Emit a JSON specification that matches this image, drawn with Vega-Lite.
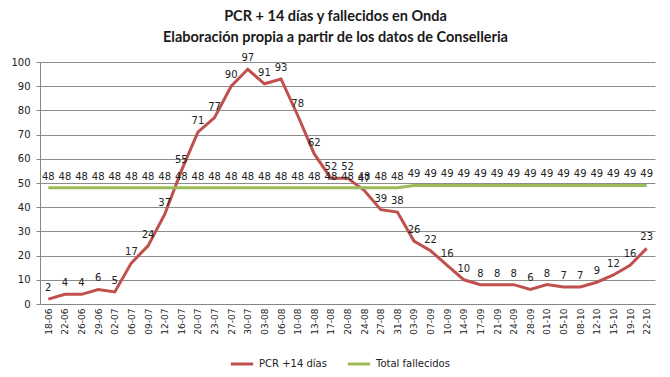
{
  "$schema": "https://vega.github.io/schema/vega-lite/v6.json",
  "width": 615,
  "height": 242,
  "autosize": {"type": "none"},
  "padding": {"left": 40, "top": 62, "right": 15, "bottom": 73},
  "background": "white",
  "title": {
    "text": ["PCR + 14 días y fallecidos en Onda", "Elaboración propia a partir de los datos de Conselleria"],
    "font": "Lato",
    "fontSize": 14.5,
    "fontWeight": "bold",
    "color": "#1a1a1a",
    "lineHeight": 21,
    "anchor": "middle",
    "offset": 8,
    "dx": -12
  },
  "datasets": {
    "pcr": [
      {"fecha": "18-06", "PCR +14 días": 2, "Total fallecidos": 48},
      {"fecha": "22-06", "PCR +14 días": 4, "Total fallecidos": 48},
      {"fecha": "26-06", "PCR +14 días": 4, "Total fallecidos": 48},
      {"fecha": "29-06", "PCR +14 días": 6, "Total fallecidos": 48},
      {"fecha": "02-07", "PCR +14 días": 5, "Total fallecidos": 48},
      {"fecha": "06-07", "PCR +14 días": 17, "Total fallecidos": 48},
      {"fecha": "09-07", "PCR +14 días": 24, "Total fallecidos": 48},
      {"fecha": "12-07", "PCR +14 días": 37, "Total fallecidos": 48},
      {"fecha": "16-07", "PCR +14 días": 55, "Total fallecidos": 48},
      {"fecha": "20-07", "PCR +14 días": 71, "Total fallecidos": 48},
      {"fecha": "23-07", "PCR +14 días": 77, "Total fallecidos": 48},
      {"fecha": "27-07", "PCR +14 días": 90, "Total fallecidos": 48},
      {"fecha": "30-07", "PCR +14 días": 97, "Total fallecidos": 48},
      {"fecha": "03-08", "PCR +14 días": 91, "Total fallecidos": 48},
      {"fecha": "06-08", "PCR +14 días": 93, "Total fallecidos": 48},
      {"fecha": "10-08", "PCR +14 días": 78, "Total fallecidos": 48},
      {"fecha": "13-08", "PCR +14 días": 62, "Total fallecidos": 48},
      {"fecha": "17-08", "PCR +14 días": 52, "Total fallecidos": 48},
      {"fecha": "20-08", "PCR +14 días": 52, "Total fallecidos": 48},
      {"fecha": "24-08", "PCR +14 días": 47, "Total fallecidos": 48},
      {"fecha": "27-08", "PCR +14 días": 39, "Total fallecidos": 48},
      {"fecha": "31-08", "PCR +14 días": 38, "Total fallecidos": 48},
      {"fecha": "03-09", "PCR +14 días": 26, "Total fallecidos": 49},
      {"fecha": "07-09", "PCR +14 días": 22, "Total fallecidos": 49},
      {"fecha": "10-09", "PCR +14 días": 16, "Total fallecidos": 49},
      {"fecha": "14-09", "PCR +14 días": 10, "Total fallecidos": 49},
      {"fecha": "17-09", "PCR +14 días": 8, "Total fallecidos": 49},
      {"fecha": "21-09", "PCR +14 días": 8, "Total fallecidos": 49},
      {"fecha": "24-09", "PCR +14 días": 8, "Total fallecidos": 49},
      {"fecha": "28-09", "PCR +14 días": 6, "Total fallecidos": 49},
      {"fecha": "01-10", "PCR +14 días": 8, "Total fallecidos": 49},
      {"fecha": "05-10", "PCR +14 días": 7, "Total fallecidos": 49},
      {"fecha": "08-10", "PCR +14 días": 7, "Total fallecidos": 49},
      {"fecha": "12-10", "PCR +14 días": 9, "Total fallecidos": 49},
      {"fecha": "15-10", "PCR +14 días": 12, "Total fallecidos": 49},
      {"fecha": "19-10", "PCR +14 días": 16, "Total fallecidos": 49},
      {"fecha": "22-10", "PCR +14 días": 23, "Total fallecidos": 49}
    ]
  },
  "data": {"name": "pcr"},
  "transform": [
    {"fold": ["PCR +14 días", "Total fallecidos"], "as": ["serie", "valor"]}
  ],
  "encoding": {
    "x": {
      "field": "fecha",
      "type": "ordinal",
      "sort": null,
      "scale": {"type": "point", "padding": 0.5},
      "axis": {
        "title": null,
        "labelAngle": 270,
        "labelFont": "DejaVu Sans",
        "labelFontSize": 9,
        "labelColor": "#222222",
        "labelPadding": 4,
        "domainColor": "#868686",
        "tickColor": "#868686",
        "tickSize": 0,
        "grid": false
      }
    },
    "y": {
      "field": "valor",
      "type": "quantitative",
      "scale": {"domain": [0, 100], "nice": false},
      "axis": {
        "title": null,
        "values": [0, 10, 20, 30, 40, 50, 60, 70, 80, 90, 100],
        "labelFont": "DejaVu Sans",
        "labelFontSize": 10,
        "labelColor": "#222222",
        "labelPadding": 6,
        "domainColor": "#868686",
        "tickColor": "#868686",
        "tickSize": 4,
        "gridColor": "#8c8c8c",
        "gridWidth": 1
      }
    },
    "color": {
      "field": "serie",
      "type": "nominal",
      "scale": {"domain": ["PCR +14 días", "Total fallecidos"], "range": ["#C0504D", "#9BBB59"]},
      "legend": {
        "title": null,
        "orient": "none",
        "legendX": 189,
        "legendY": 289,
        "direction": "horizontal",
        "symbolType": "stroke",
        "symbolSize": 500,
        "symbolStrokeWidth": 3,
        "labelFont": "DejaVu Sans",
        "labelFontSize": 10,
        "labelColor": "#222222",
        "labelOffset": 4,
        "columnPadding": 14
      }
    }
  },
  "layer": [
    {"mark": {"type": "line", "strokeWidth": 3}},
    {
      "mark": {"type": "text", "dy": -11, "font": "DejaVu Sans", "fontSize": 10, "color": "#222222"},
      "encoding": {
        "text": {"field": "valor", "type": "quantitative"},
        "color": {"value": "#222222"}
      }
    }
  ],
  "config": {"view": {"stroke": null}}
}
